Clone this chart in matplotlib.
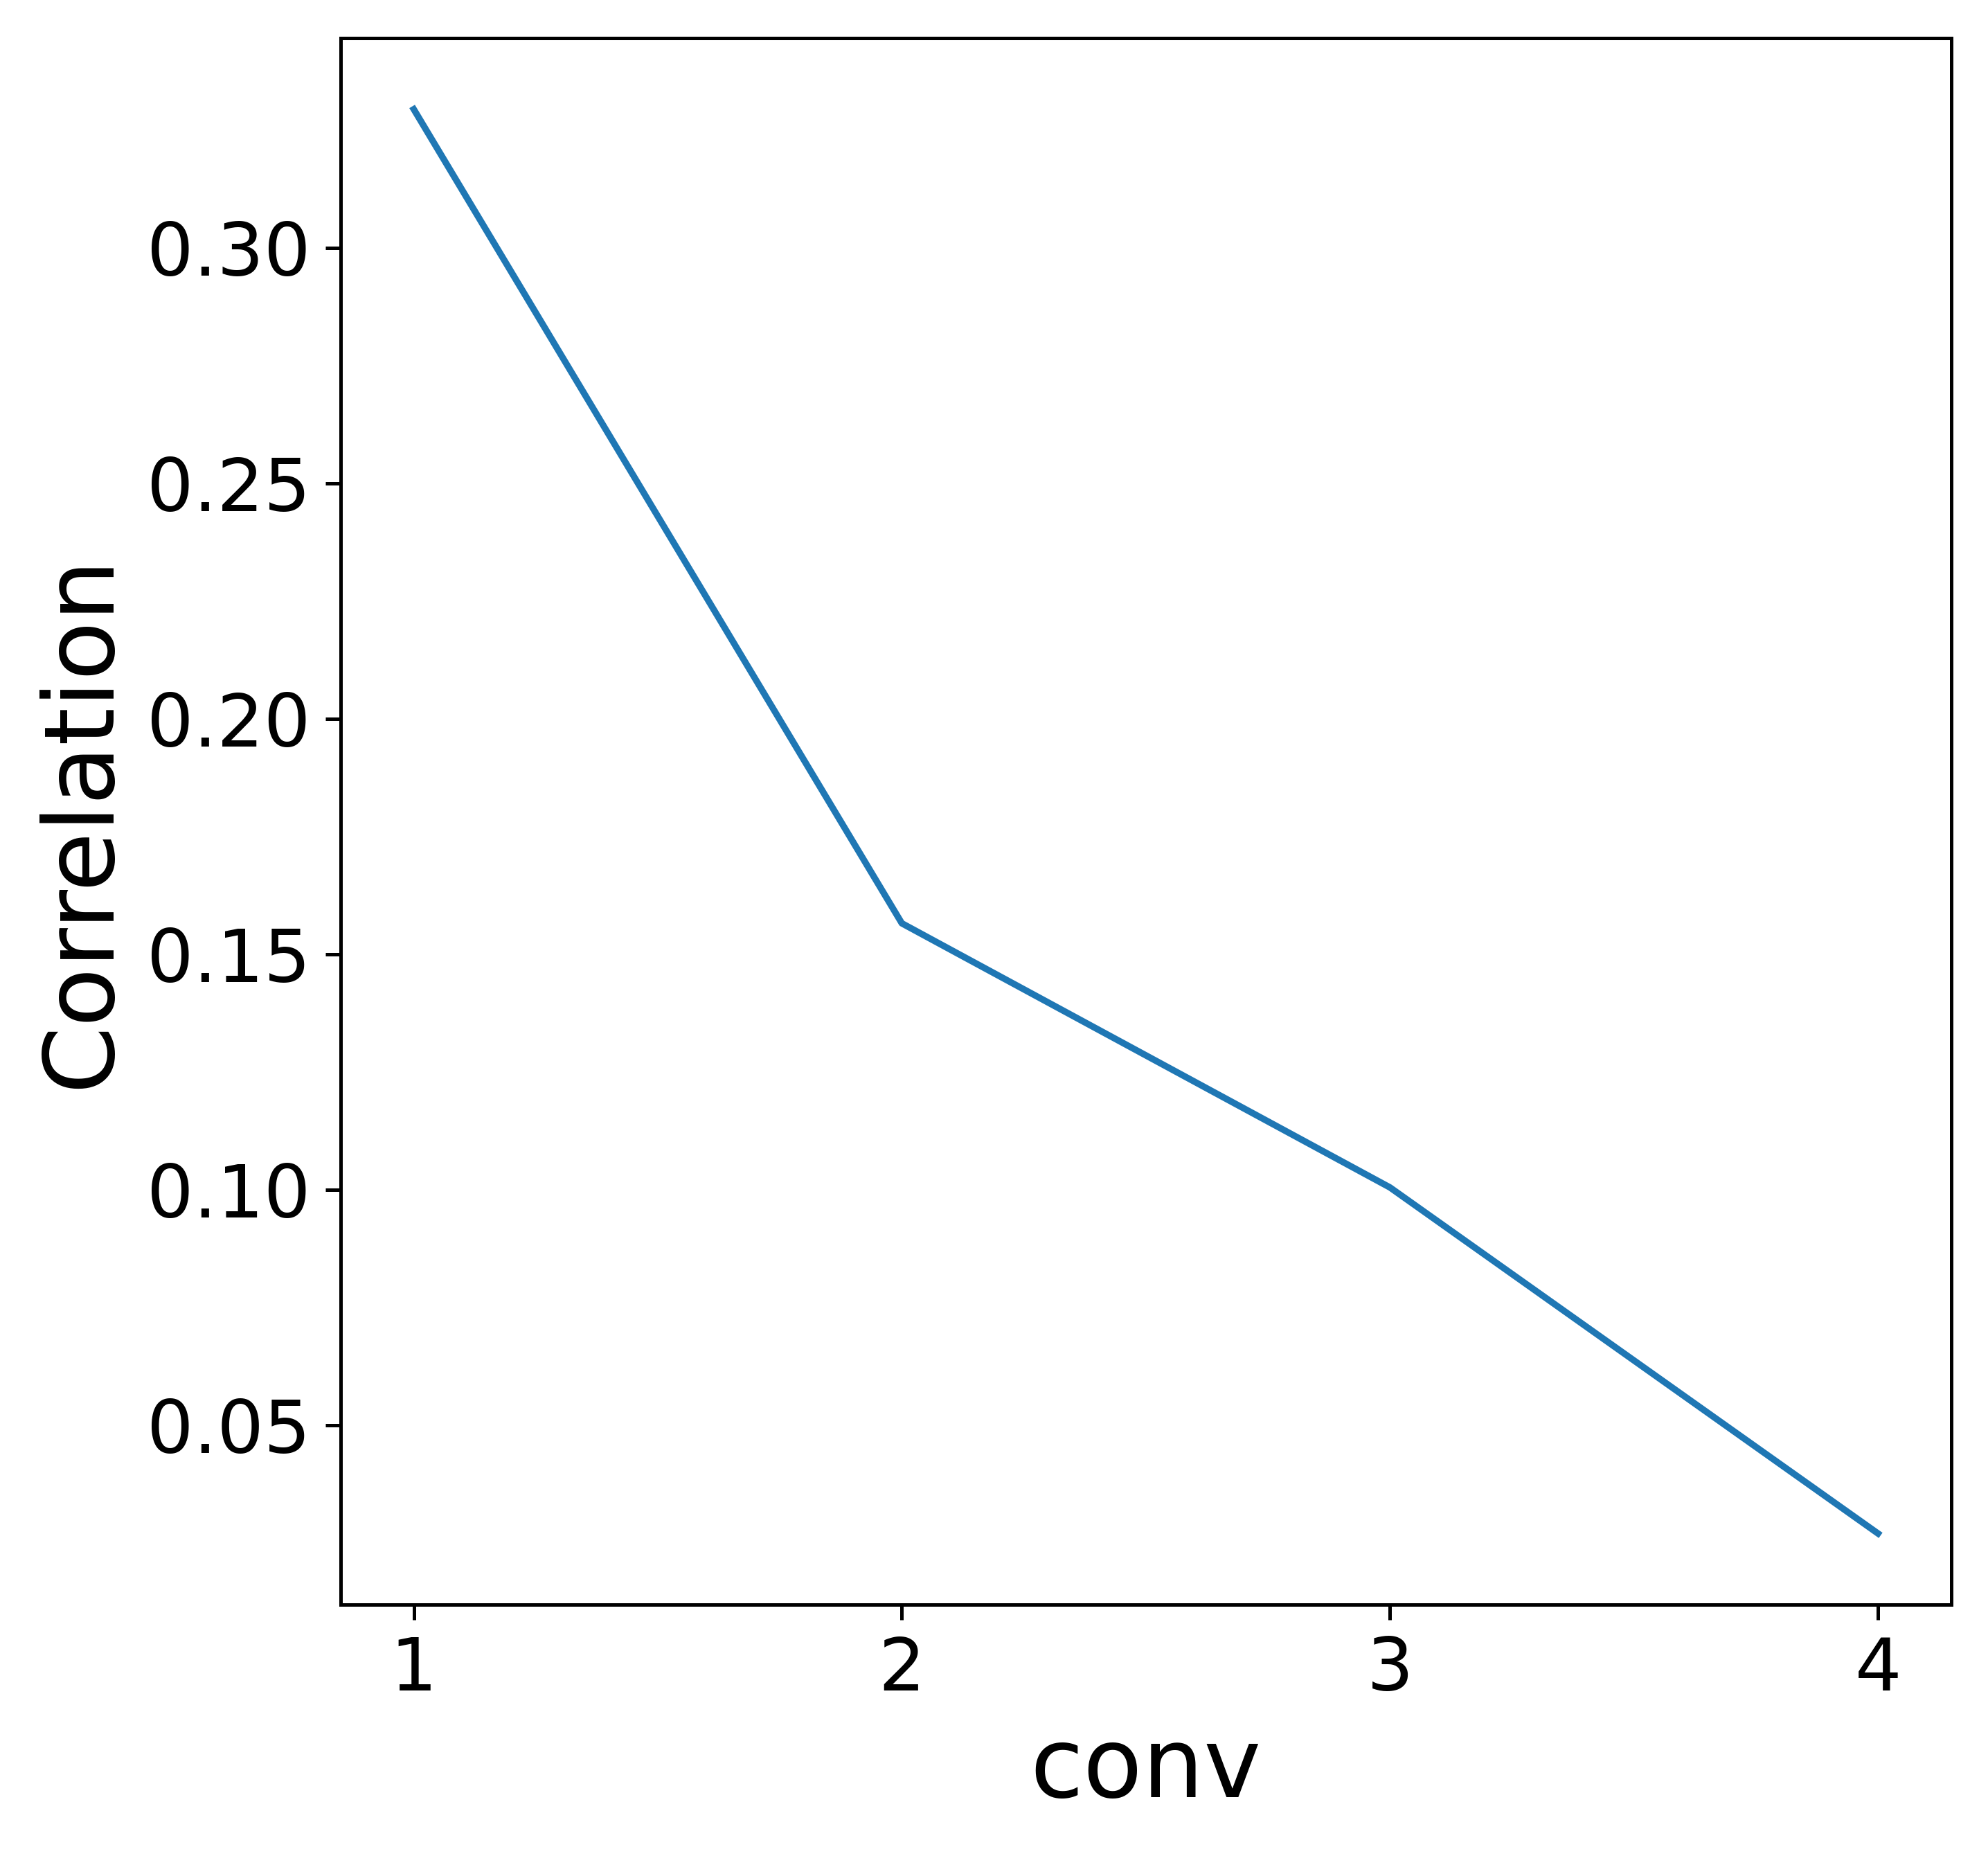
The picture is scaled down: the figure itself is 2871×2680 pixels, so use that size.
import matplotlib
matplotlib.use("Agg")
import matplotlib.pyplot as plt

conv_layers = [1, 2, 3, 4]
correlation = [0.3295, 0.1566, 0.1005, 0.0270]

fig = plt.figure(figsize=(2871 / 450, 2680 / 450), dpi=450)
ax = fig.add_axes([0.1713, 0.1354, 0.8102, 0.8441])
ax.plot(conv_layers, correlation)
ax.set_xticks(conv_layers)
ax.tick_params(labelsize=17)
ax.set_xlabel("conv", fontsize=22.4)
ax.set_ylabel("Correlation", fontsize=22.4)
fig.savefig("out.png", dpi=450)
